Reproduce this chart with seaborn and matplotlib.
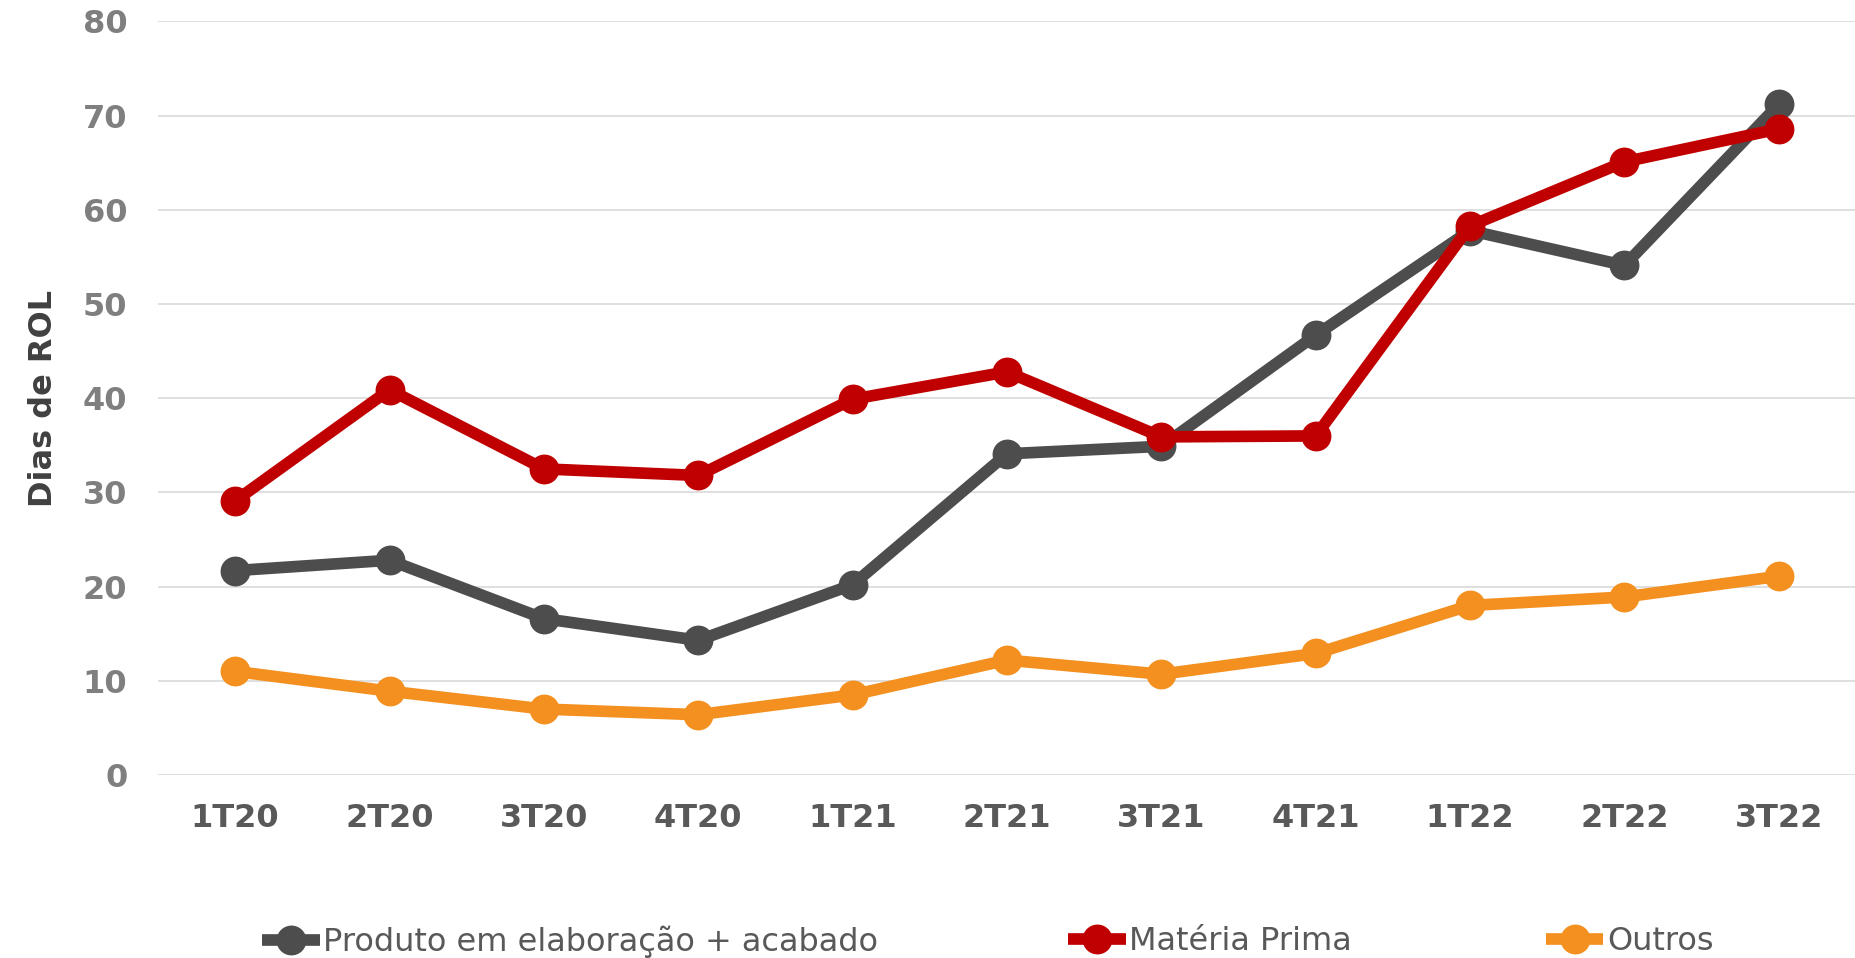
import matplotlib
matplotlib.use("Agg")
import matplotlib.pyplot as plt
import seaborn as sns
import pandas as pd
from matplotlib.lines import Line2D

categories = ["1T20", "2T20", "3T20", "4T20", "1T21", "2T21", "3T21", "4T21", "1T22", "2T22", "3T22"]
produto = [21.7, 22.8, 16.6, 14.3, 20.2, 34.1, 34.9, 46.7, 57.8, 54.1, 71.2]
materia = [29.1, 40.9, 32.5, 31.8, 39.9, 42.8, 35.9, 36.0, 58.3, 65.1, 68.6]
outros = [11.0, 8.9, 7.0, 6.4, 8.5, 12.2, 10.7, 12.9, 18.0, 18.9, 21.1]
series_names = ["Produto em elaboração + acabado", "Matéria Prima", "Outros"]
colors = ["#4D4D4D", "#C00000", "#F39020"]
y_ticks = [0, 10, 20, 30, 40, 50, 60, 70, 80]

rows = []
for name, vals in zip(series_names, [produto, materia, outros]):
    for c, v in zip(categories, vals):
        rows.append({"Trimestre": c, "Dias": v, "Serie": name})
df = pd.DataFrame(rows)

sns.set_theme(style="white")
plt.rcParams["font.family"] = ["DejaVu Sans"]

LW = 8.4
MS = 21.5
W, H = 1856, 958

fig = plt.figure(figsize=(W / 100, H / 100), dpi=100)
ax = fig.add_axes([158 / W, 1 - 775 / H, 1 - 158 / W, (775 - 21.5) / H])

sns.lineplot(data=df, x="Trimestre", y="Dias", hue="Serie", hue_order=series_names,
             palette=colors, marker="o", markersize=MS, markeredgewidth=0,
             linewidth=LW, sort=False, ax=ax, legend=False, zorder=3)

ax.set_xlim(-0.5, len(categories) - 0.5)
ax.set_ylim(0, 80)
ax.set_yticks(y_ticks)
ax.yaxis.grid(True, color="#D9D9D9", linewidth=1.2, zorder=0)
ax.xaxis.grid(False)
for s in ax.spines.values():
    s.set_visible(False)
ax.tick_params(axis="both", length=0)
ax.tick_params(axis="y", pad=22, labelsize=23, labelcolor="#7F7F7F")
ax.tick_params(axis="x", pad=20, labelsize=23, labelcolor="#595959")
for lbl in ax.get_yticklabels() + ax.get_xticklabels():
    lbl.set_fontweight("bold")
ax.set_xlabel("")
ax.set_ylabel("Dias de ROL", fontsize=23, fontweight="bold", color="#404040")
ax.yaxis.set_label_coords(-(158 - 59) / (W - 158), 0.5)

legend_x = [262, 1068, 1546]
for name, c, lx in zip(series_names, colors, legend_x):
    h = Line2D([0], [0], color=c, linewidth=LW, marker="o", markersize=MS,
               markeredgewidth=0, solid_capstyle="butt")
    leg = fig.legend([h], [name], loc="center left", bbox_to_anchor=(lx / W, 1 - 942 / H),
                     frameon=False, fontsize=23, handlelength=1.8, handletextpad=0.12,
                     borderpad=0, borderaxespad=0)
    for t in leg.get_texts():
        t.set_color("#595959")

fig.savefig("out.png", dpi=100)
